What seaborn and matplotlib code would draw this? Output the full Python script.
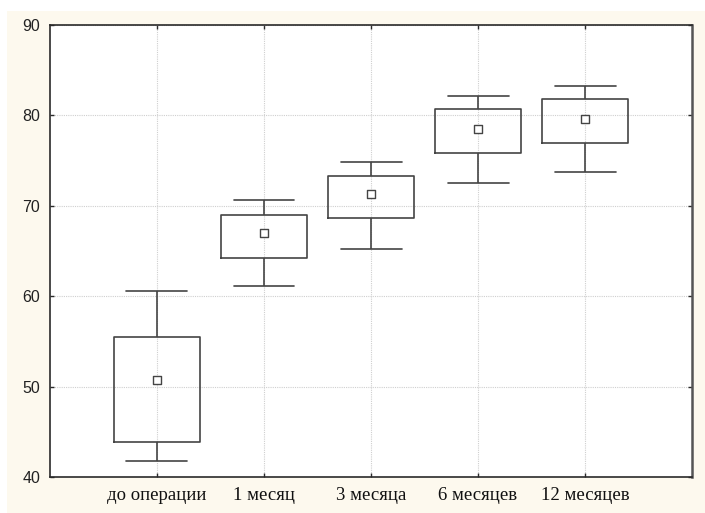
import numpy as np
import pandas as pd
import matplotlib
matplotlib.use("Agg")
import matplotlib.pyplot as plt
from matplotlib.patches import Rectangle
import seaborn as sns

# Summary statistics per time point
categories = ["до операции", "1 месяц", "3 месяца", "6 месяцев", "12 месяцев"]
whisker_low = [41.8, 61.1, 65.2, 72.5, 73.7]
box_low = [43.9, 64.2, 68.6, 75.8, 77.0]
center = [50.7, 67.0, 71.3, 78.5, 79.6]
box_high = [55.5, 69.0, 73.3, 80.7, 81.8]
whisker_high = [60.6, 70.6, 74.8, 82.1, 83.3]
y_ticks = [40, 50, 60, 70, 80, 90]

# Five-point long table: with linear quantiles, the 25/50/75 % points and the
# extremes reproduce the box edges, centre and whisker ends exactly.
rows = []
for c, a, b, m, d, e in zip(categories, whisker_low, box_low, center, box_high, whisker_high):
    for v in (a, b, m, d, e):
        rows.append({"period": c, "value": v})
df = pd.DataFrame(rows)
means = pd.DataFrame({"period": categories, "value": center})

sns.set_theme(style="white")
plt.rcParams["font.family"] = ["Liberation Sans", "DejaVu Sans"]

line_col = "#444444"
fig = plt.figure(figsize=(7.05, 5.13), dpi=100, facecolor="white")
fig.patches.append(Rectangle((0.01, 0.0), 0.99, 0.979, transform=fig.transFigure,
                             facecolor="#fdf9ee", edgecolor="none", zorder=-10))
ax = fig.add_axes([0.0709, 0.0702, 0.9107, 0.8811])
ax.set_facecolor("white")

sns.boxplot(data=df, x="period", y="value", order=categories, ax=ax,
            whis=np.inf, width=0.81, fill=False, color=line_col, linewidth=1.2,
            medianprops=dict(linewidth=0), capwidths=0.57, zorder=3)
sns.scatterplot(data=means, x="period", y="value", ax=ax, marker="s", s=30,
                facecolor="white", edgecolor=line_col, linewidth=1.0, zorder=4)

ax.set_xlim(-1, 5)
ax.set_ylim(40, 90)
ax.set_yticks(y_ticks)
ax.set_xlabel("")
ax.set_ylabel("")

ax.grid(True, axis="both", color="#cfcfcf", linestyle=(0, (1, 1)), linewidth=0.8, zorder=0)
ax.set_axisbelow(True)

for side in ("left", "bottom", "top"):
    ax.spines[side].set_color("#2a2a2a")
    ax.spines[side].set_linewidth(1.2)
ax.spines["right"].set_color("#555555")
ax.spines["right"].set_linewidth(1.8)

ax.tick_params(axis="both", direction="in", length=3, width=1, color="#2a2a2a",
               top=True, right=True, bottom=True, left=True)
ax.tick_params(axis="y", labelsize=11.5, labelcolor="#222222", pad=7)
ax.tick_params(axis="x", labelsize=13.5, labelcolor="#111111", pad=7)
for lbl in ax.get_xticklabels():
    lbl.set_fontfamily(["Liberation Serif", "DejaVu Serif"])

fig.savefig("out.png", dpi=100, facecolor=fig.get_facecolor())
